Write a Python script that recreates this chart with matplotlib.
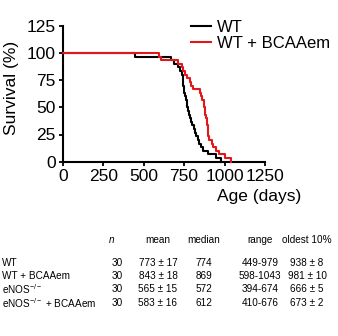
import numpy as np
import matplotlib
matplotlib.use("Agg")
import matplotlib.pyplot as plt
from matplotlib import font_manager

# ---- data ----
wt_deaths = [449, 670, 690, 710, 725, 738, 742, 744, 746, 748, 750, 755, 760, 765, 770,
             775, 780, 788, 795, 802, 810, 818, 825, 835, 845, 855, 868, 900, 950, 979]
bcaa_deaths = [595, 610, 710, 735, 745, 755, 770, 785, 795, 805, 848, 855, 862, 870, 875,
               878, 882, 886, 890, 893, 895, 897, 900, 905, 925, 930, 950, 965, 1000, 1043]
series_labels = ["WT", "WT + BCAAem"]
series_colors = ["#000000", "#e0181c"]
x_ticks = [0, 250, 500, 750, 1000, 1250]
y_ticks = [0, 25, 50, 75, 100, 125]

table_header = ["n", "mean", "median", "range", "oldest 10%"]
table_rows = ["WT", "WT + BCAAem", r"eNOS$^{-/-}$", r"eNOS$^{-/-}$ + BCAAem"]
table_n = ["30", "30", "30", "30"]
table_mean = ["773 ± 17", "843 ± 18", "565 ± 15", "583 ± 16"]
table_median = ["774", "869", "572", "612"]
table_range = ["449-979", "598-1043", "394-674", "410-676"]
table_oldest = ["938 ± 8", "981 ± 10", "666 ± 5", "673 ± 2"]

names = {f.name for f in font_manager.fontManager.ttflist}
main_font = "Liberation Sans" if "Liberation Sans" in names else "DejaVu Sans"
plt.rcParams['font.family'] = [main_font, 'DejaVu Sans']
plt.rcParams['mathtext.fontset'] = 'custom'
plt.rcParams['mathtext.rm'] = main_font

W, H = 338, 336
fig = plt.figure(figsize=(W / 100, H / 100), dpi=100)
ax = fig.add_axes([62.7 / W, 1 - 161.7 / H, (265 - 62.7) / W, (161.7 - 25.7) / H])

def km(deaths):
    n = len(deaths)
    t = [0] + list(deaths)
    s = [100.0] + [100.0 * (n - i - 1) / n for i in range(n)]
    return t, s

for deaths, col, lab in zip([wt_deaths, bcaa_deaths], series_colors, series_labels):
    t, s = km(deaths)
    ax.step(t, s, where='post', color=col, lw=1.5, label=lab, clip_on=False, zorder=3)

ax.set_xlim(0, 1250)
ax.set_ylim(0, 125)
ax.set_xticks(x_ticks)
ax.set_yticks(y_ticks)
ax.tick_params(direction='out', length=3, width=1.3, labelsize=12.5, pad=2)
for sp in ['top', 'right']:
    ax.spines[sp].set_visible(False)
for sp in ['left', 'bottom']:
    ax.spines[sp].set_linewidth(1.5)

fig.text(12 / W, 1 - 88 / H, "Survival (%)", rotation=90, ha='center', va='center', fontsize=12.5)
fig.text(259 / W, 1 - 197 / H, "Age (days)", ha='center', va='center', fontsize=12.5)

leg = ax.legend(loc='upper left', bbox_to_anchor=(191 / W, 1 - 20 / H), bbox_transform=fig.transFigure,
                frameon=False, fontsize=12, handlelength=1.2, handletextpad=0.35,
                labelspacing=0.05, borderaxespad=0, borderpad=0)

# table
tfs = 7.2
row_y = [263, 276, 289, 303]
fig.text(112 / W, 1 - 240 / H, table_header[0], ha='center', va='center', fontsize=tfs,
         style='italic')
col_x = [158, 204, 260, 307]
for x, h in zip(col_x, table_header[1:]):
    fig.text(x / W, 1 - 240 / H, h, ha='center', va='center', fontsize=tfs)
for i, y in enumerate(row_y):
    fig.text(2 / W, 1 - y / H, table_rows[i], ha='left', va='center', fontsize=tfs)
    fig.text(117 / W, 1 - y / H, table_n[i], ha='center', va='center', fontsize=tfs)
    for x, vals in zip(col_x, [table_mean, table_median, table_range, table_oldest]):
        fig.text(x / W, 1 - y / H, vals[i], ha='center', va='center', fontsize=tfs)

fig.savefig("out.png", dpi=100)
